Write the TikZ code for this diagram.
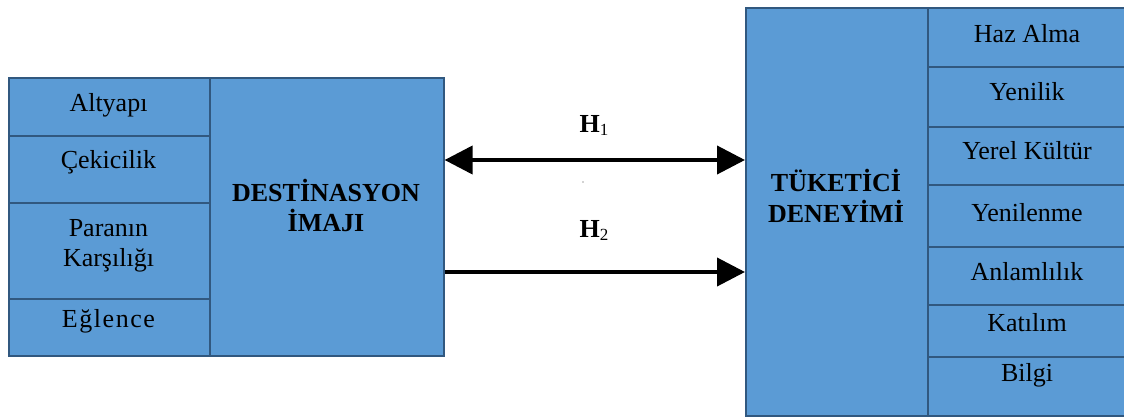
\documentclass[tikz,border=0pt]{standalone}
\usepackage{fontspec}
\setmainfont{Liberation Serif}
\usetikzlibrary{arrows.meta}
\definecolor{boxblue}{HTML}{5B9BD5}
\definecolor{boxline}{HTML}{31587F}
\tikzset{
  cell/.style={draw=boxline, fill=boxblue, line width=1.6pt, anchor=north west, inner sep=0pt},
  lbl/.style={anchor=base, inner sep=0pt, font=\fontsize{26}{30}\selectfont},
  blbl/.style={anchor=base, inner sep=0pt, font=\fontsize{26}{30}\selectfont\bfseries},
  arr/.style={line width=4pt, -{Triangle[length=28pt,width=28pt]}},
  darr/.style={line width=4pt, {Triangle[length=28pt,width=28pt]}-{Triangle[length=28pt,width=28pt]}},
}
\newcommand{\hsub}[1]{{\bfseries H}\raisebox{-3pt}{\fontsize{17}{17}\selectfont #1}}
\begin{document}
\begin{tikzpicture}[x=1pt,y=1pt]
\useasboundingbox (0,0) rectangle (1124,-417);
% left block
\node[cell, minimum width=201pt, minimum height=58pt] (l1) at (8,-77) {};
\node[cell, minimum width=201pt, minimum height=67pt] (l2) at (8,-135) {};
\node[cell, minimum width=201pt, minimum height=96pt] (l3) at (8,-202) {};
\node[cell, minimum width=201pt, minimum height=57pt] (l4) at (8,-298) {};
\node[cell, minimum width=234pt, minimum height=278pt] (dimg) at (209,-77) {};
% right block
\node[cell, minimum width=182pt, minimum height=408pt] (tuk) at (745,-7) {};
\node[cell, minimum width=198pt, minimum height=59pt] (r1) at (927,-7) {};
\node[cell, minimum width=198pt, minimum height=60pt] (r2) at (927,-66) {};
\node[cell, minimum width=198pt, minimum height=58pt] (r3) at (927,-126) {};
\node[cell, minimum width=198pt, minimum height=62pt] (r4) at (927,-184) {};
\node[cell, minimum width=198pt, minimum height=58pt] (r5) at (927,-246) {};
\node[cell, minimum width=198pt, minimum height=52pt] (r6) at (927,-304) {};
\node[cell, minimum width=198pt, minimum height=59pt] (r7) at (927,-356) {};
% left texts
\node[lbl] (t1) at (108.5,-111.7) {Altyapı};
\node[lbl] (t2) at (108.5,-168) {Çekicilik};
\node[lbl] (t3a) at (108.5,-236.7) {Paranın};
\node[lbl] (t3b) at (108.5,-266.7) {Karşılığı};
\node[lbl, font=\fontsize{26}{30}\selectfont\addfontfeature{LetterSpace=6}] (t4) at (108.5,-327) {Eğlence};
\node[blbl] (d1) at (326,-201.7) {DESTİNASYON};
\node[blbl] (d2) at (326,-231.7) {İMAJI};
% right texts
\node[blbl] (k1) at (836,-191.7) {TÜKETİCİ};
\node[blbl] (k2) at (836,-222.3) {DENEYİMİ};
\node[lbl] (s1) at (1027,-42.7) {Haz Alma};
\node[lbl] (s2) at (1027,-101) {Yenilik};
\node[lbl] (s3) at (1027,-160) {Yerel Kültür};
\node[lbl] (s4) at (1027,-221) {Yenilenme};
\node[lbl] (s5) at (1027,-280) {Anlamlılık};
\node[lbl] (s6) at (1027,-331) {Katılım};
\node[lbl] (s7) at (1027,-381) {Bilgi};
% arrows
\coordinate (y1) at (0,-160);
\coordinate (y2) at (0,-272);
\draw[darr] (dimg.east |- y1) -- (tuk.west |- y1);
\draw[arr] (dimg.east |- y2) -- (tuk.west |- y2);
\node[lbl] (h1) at (594,-132) {\hsub{1}};
\node[lbl] (h2) at (594,-237.7) {\hsub{2}};
\fill[gray!70] (583,-182) circle (0.8pt);
\end{tikzpicture}
\end{document}
